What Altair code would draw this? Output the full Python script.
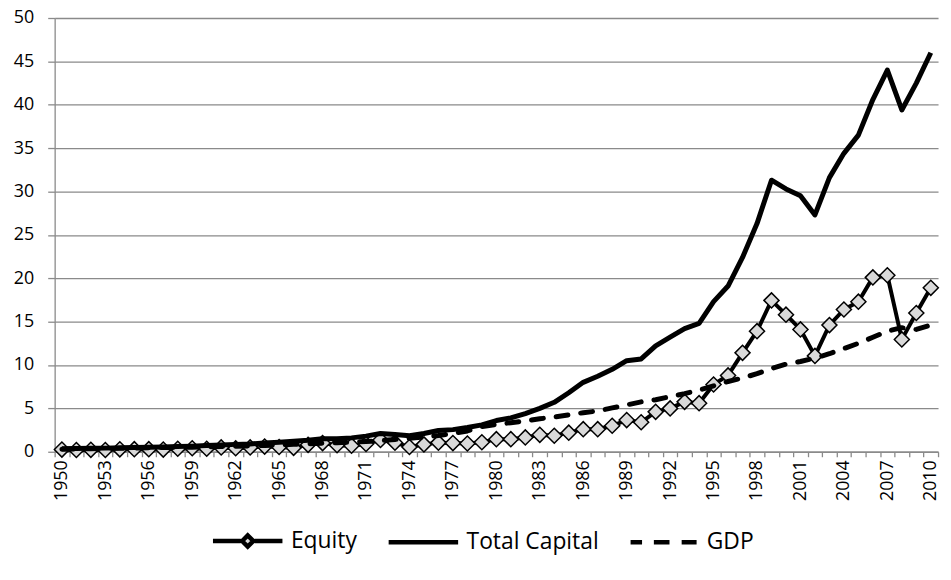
import altair as alt
import pandas as pd

# ---------------- data ----------------
years = list(range(1950, 2011))

equity = [0.25, 0.2, 0.22, 0.2, 0.28, 0.3, 0.3, 0.25, 0.35, 0.4,
          0.35, 0.5, 0.4, 0.5, 0.6, 0.55, 0.45, 0.8, 1.0, 0.75,
          0.7, 0.9, 1.35, 1.05, 0.55, 0.85, 1.05, 1.0, 0.95, 1.1,
          1.45, 1.45, 1.65, 1.95, 1.85, 2.2, 2.6, 2.6, 3.0, 3.65,
          3.4, 4.6, 5.0, 5.75, 5.6, 7.75, 8.8, 11.4, 13.9, 17.45,
          15.8, 14.1, 11.05, 14.6, 16.4, 17.3, 20.1, 20.35, 12.95, 16.0,
          18.9]

total_capital = [0.35, 0.38, 0.4, 0.42, 0.45, 0.5, 0.53, 0.56, 0.6, 0.65,
                 0.72, 0.78, 0.85, 0.9, 1.0, 1.1, 1.2, 1.32, 1.5, 1.5,
                 1.6, 1.8, 2.1, 2.0, 1.85, 2.1, 2.45, 2.55, 2.8, 3.1,
                 3.6, 3.9, 4.4, 5.0, 5.7, 6.8, 8.0, 8.7, 9.5, 10.5,
                 10.7, 12.2, 13.2, 14.2, 14.8, 17.3, 19.1, 22.4, 26.3, 31.3,
                 30.3, 29.5, 27.3, 31.6, 34.4, 36.5, 40.6, 44.0, 39.4, 42.5,
                 46.0]

gdp = [0.30, 0.33, 0.35, 0.37, 0.39, 0.42, 0.45, 0.48, 0.5, 0.53,
       0.57, 0.6, 0.64, 0.68, 0.73, 0.79, 0.86, 0.92, 0.98, 1.05,
       1.1, 1.18, 1.28, 1.42, 1.55, 1.7, 1.88, 2.1, 2.4, 2.9,
       3.15, 3.35, 3.55, 3.8, 4.0, 4.25, 4.5, 4.7, 5.05, 5.4,
       5.75, 6.0, 6.35, 6.7, 7.1, 7.6, 8.1, 8.5, 9.0, 9.6,
       10.1, 10.4, 10.8, 11.3, 11.9, 12.5, 13.2, 13.9, 14.3, 14.1,
       14.6]

series_names = ["Equity", "Total Capital", "GDP"]
label_years = list(range(1950, 2011, 3))
tick_bounds = [y - 0.5 for y in range(1950, 2012)]
y_ticks = list(range(0, 51, 5))

df = pd.DataFrame({"year": years, "Equity": equity,
                   "Total Capital": total_capital, "GDP": gdp})
legend_df = pd.DataFrame({"series": series_names})

# ---------------- styling ----------------
FONT = "Open Sans"
FS = 18
LEG_FS = 23
AXIS_GRAY = "#8a8a8a"

x_scale = alt.Scale(domain=[1949.5, 2010.5], nice=False, zero=False)
y_scale = alt.Scale(domain=[0, 50], nice=False, zero=True)

y_axis = alt.Axis(values=y_ticks, grid=True, gridColor=AXIS_GRAY, gridWidth=1.3,
                  tickSize=7, tickColor=AXIS_GRAY, domainColor=AXIS_GRAY,
                  domainWidth=1.3, tickWidth=1.3,
                  labelFont=FONT, labelFontSize=FS, labelColor="black",
                  labelPadding=14, title=None)
y_enc_plain = alt.Y("v:Q", scale=y_scale, axis=y_axis)

x_label_axis = alt.Axis(values=label_years, format="d", labelAngle=-90,
                        labelAlign="right", labelBaseline="middle",
                        tickSize=0, ticks=False, domain=False, grid=False,
                        labelPadding=8, labelFont=FONT, labelFontSize=FS,
                        labelColor="black", title=None, orient="bottom",
                        labelOverlap=False)
x_tick_axis = alt.Axis(values=tick_bounds, labels=False, tickSize=5,
                       tickColor=AXIS_GRAY, tickWidth=1.3,
                       domainColor=AXIS_GRAY, domainWidth=1.3,
                       grid=False, title=None, orient="bottom")

# legend symbols (unit space -1..1)
legend_paths = [
    "M-1,0H-0.2M0.2,0H1M-0.16,0L0,-0.16L0.16,0L0,0.16Z",
    "M-1,0H1",
    "M-0.95,0H-0.62M-0.28,0H0.17M0.52,0H0.95",
]

def series_chart(name):
    return alt.Chart(df).transform_calculate(v=f"datum['{name}']")

equity_line = series_chart("Equity").mark_line(
    color="black", strokeWidth=4, strokeJoin="round"
).encode(
    x=alt.X("year:Q", scale=x_scale, axis=x_label_axis),
    y=y_enc_plain,
)

equity_pts = series_chart("Equity").mark_point(
    shape="diamond", filled=True, fill="#d9d9d9", stroke="black",
    strokeWidth=1.5, size=230, opacity=1
).encode(
    x=alt.X("year:Q", scale=x_scale, axis=None),
    y=y_enc_plain,
)

total_line = series_chart("Total Capital").mark_line(
    color="black", strokeWidth=5, strokeJoin="round"
).encode(
    x=alt.X("year:Q", scale=x_scale, axis=x_tick_axis),
    y=y_enc_plain,
)

gdp_line = series_chart("GDP").mark_line(
    color="black", strokeWidth=5, strokeDash=[12, 13], strokeCap="round",
    strokeJoin="round"
).encode(
    x=alt.X("year:Q", scale=x_scale, axis=None),
    y=y_enc_plain,
)

legend_layer = alt.Chart(legend_df).mark_point(
    filled=False, fill="#d9d9d9", stroke="black", color="black",
    strokeWidth=4.5, strokeCap="round", clip=True, opacity=1
).encode(
    x=alt.value(-400),
    y=alt.value(-400),
    shape=alt.Shape(
        "series:N",
        scale=alt.Scale(domain=series_names, range=legend_paths),
        legend=alt.Legend(
            orient="none", legendX=157, legendY=489, direction="horizontal",
            title=None, symbolSize=4900, symbolStrokeWidth=4.5,
            labelFont=FONT, labelFontSize=LEG_FS, labelColor="black",
            columnPadding=22, labelOffset=6, padding=0,
        ),
    ),
)

chart = alt.layer(
    equity_line, equity_pts, total_line, gdp_line, legend_layer
).resolve_axis(
    x="independent"
).properties(
    width=890,
    height=437,
    autosize=alt.AutoSizeParams(type="none"),
    padding={"left": 47, "top": 8, "right": 5, "bottom": 110},
    background="white",
).configure_view(
    strokeWidth=0
)

chart.save("out.html", embed_options={"renderer": "svg", "actions": False})
